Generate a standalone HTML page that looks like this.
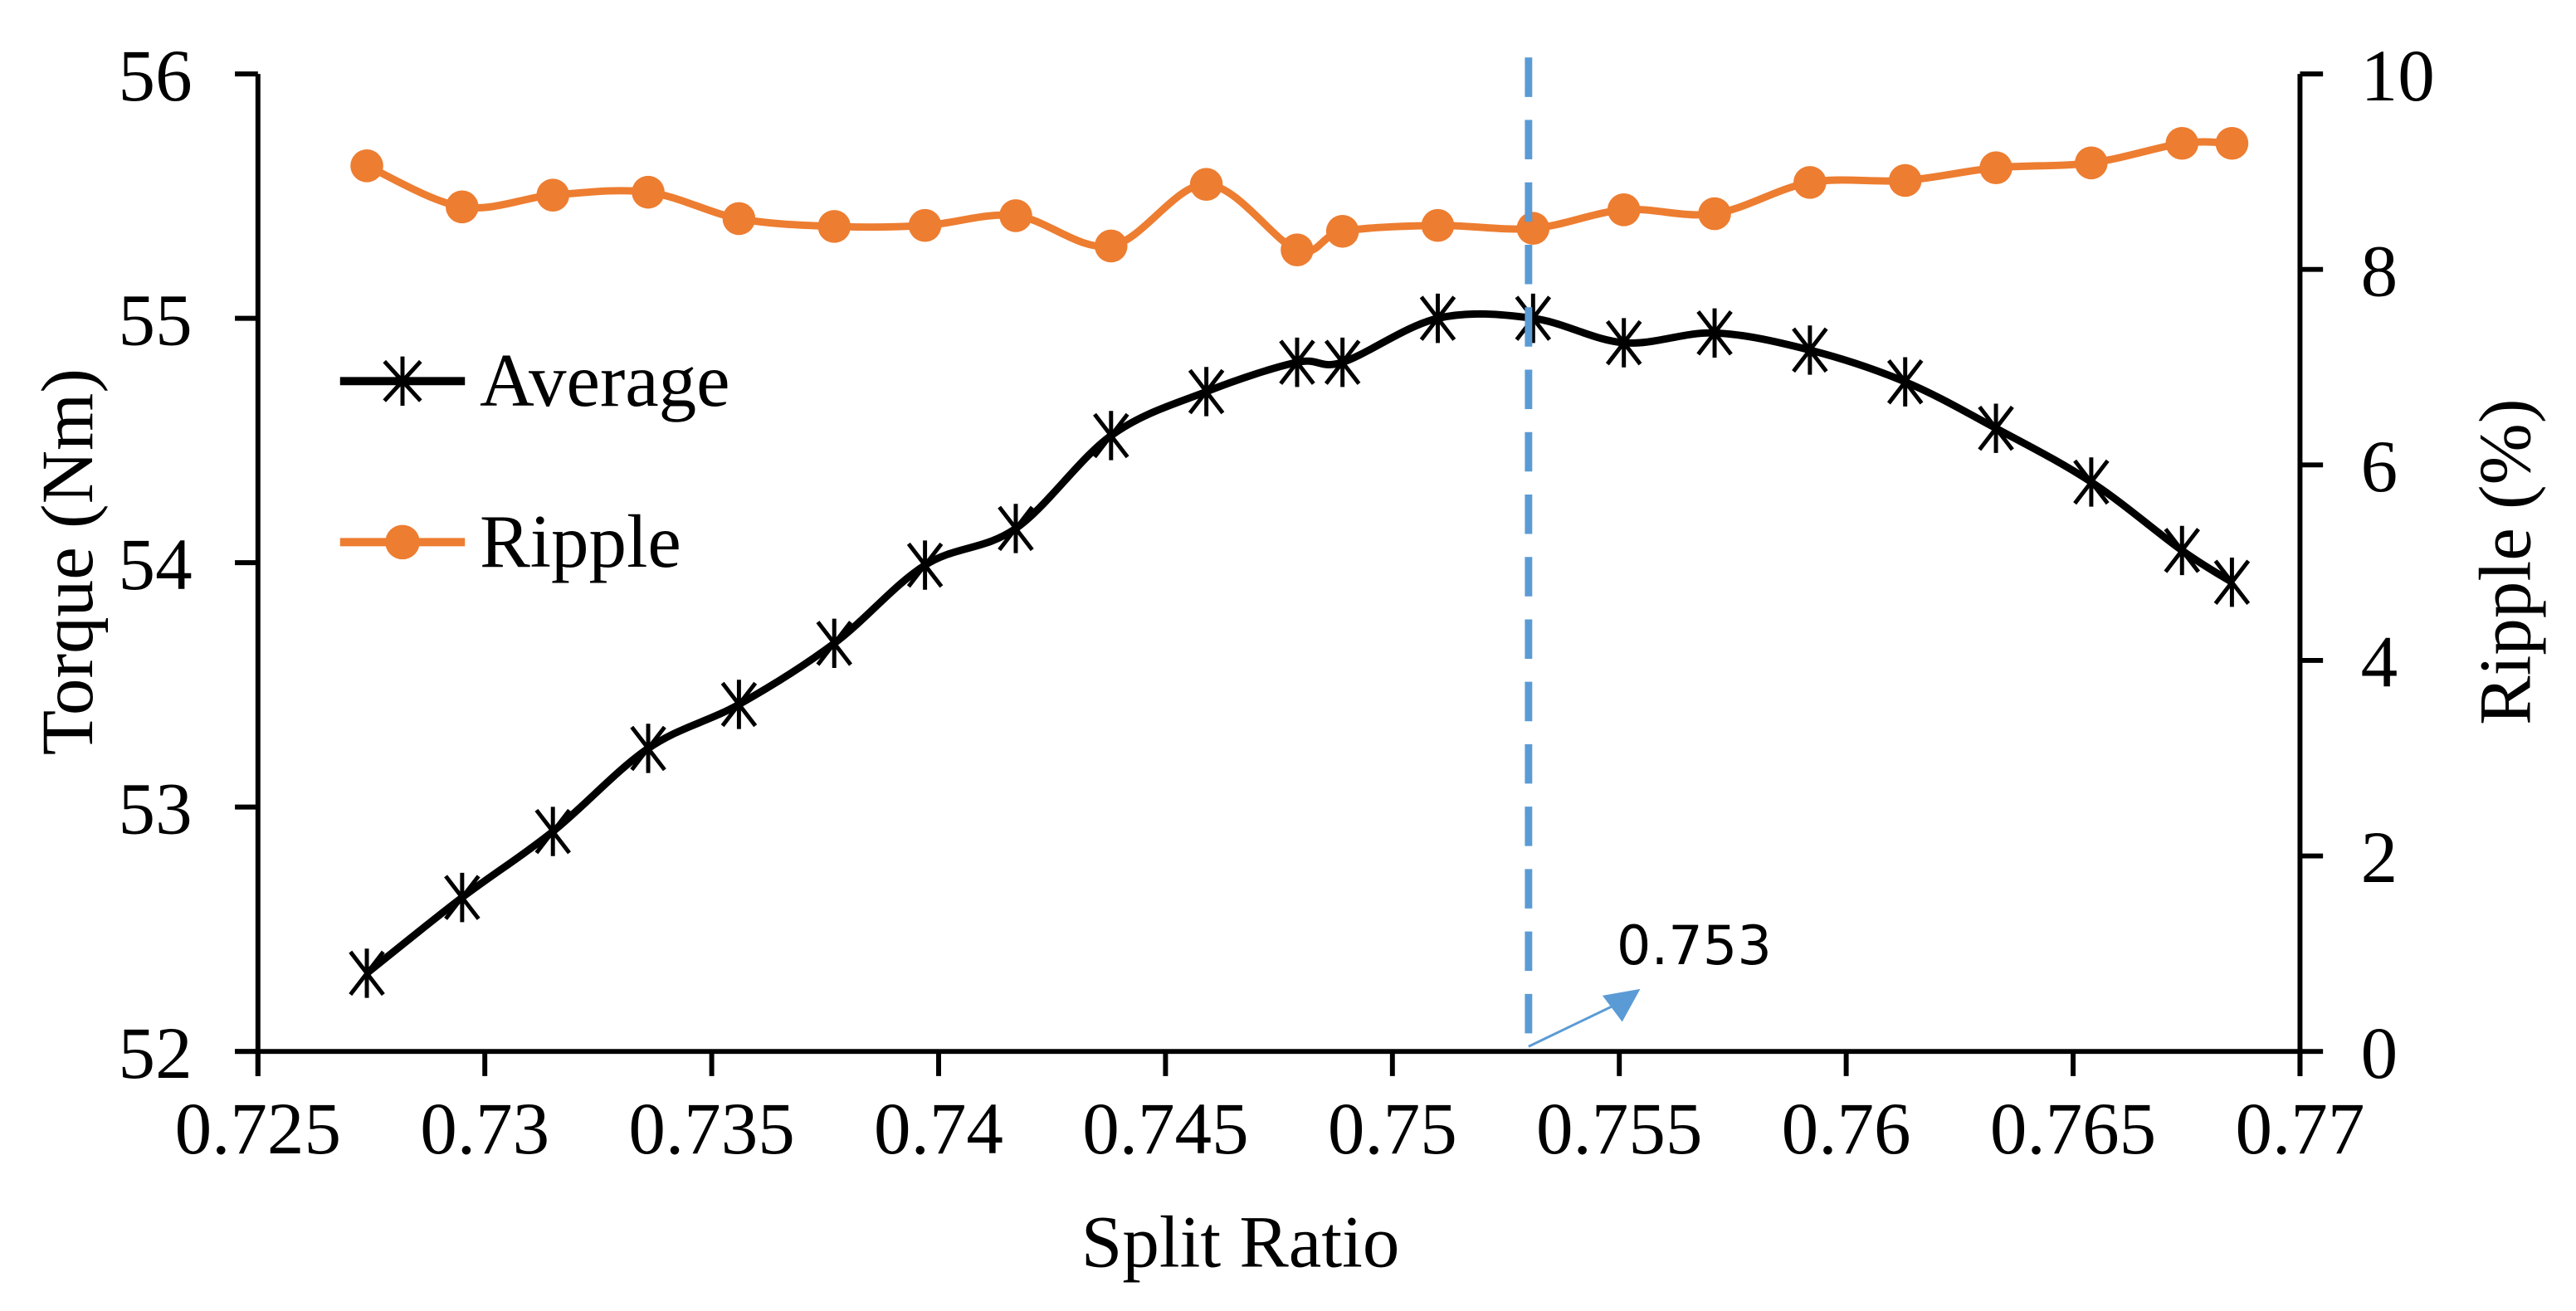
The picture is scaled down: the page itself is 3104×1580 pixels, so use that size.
<!DOCTYPE html>
<html><head><meta charset="utf-8"><style>
html,body{margin:0;padding:0;background:#fff;}
svg{display:block;font-family:"Liberation Serif",serif;}
</style></head><body>
<svg id="chart" width="3104" height="1580" viewBox="0 0 1568 798" preserveAspectRatio="none" xmlns="http://www.w3.org/2000/svg">
<g id="axes"></g>
<g id="series"></g>
<text x="755" y="771" font-size="45" text-anchor="middle">Split Ratio</text>
<text transform="translate(56,342) rotate(-90)" font-size="45" text-anchor="middle">Torque (Nm)</text>
<text transform="translate(1540,342) rotate(-90)" font-size="45" text-anchor="middle">Ripple (%)</text>
<g>
<g>
<line x1="207" y1="232" x2="283" y2="232" stroke="#000" stroke-width="5"/>
<path d="M234 220 L256 244 M256 220 L234 244 M245 217 L245 247" stroke="#000" stroke-width="2.5"/>
<text x="292" y="247" font-size="46">Average</text></g>
<g>
<line x1="207" y1="330" x2="283" y2="330" stroke="#ED7D31" stroke-width="5"/>
<circle cx="245" cy="330" r="10.5" fill="#ED7D31"/>
<text x="292" y="345" font-size="46">Ripple</text></g>
</g>
<text x="984" y="587" font-size="33" font-family="DejaVu Sans, sans-serif">0.753</text>
</svg>
<script>
const xs=[0.7274,0.7295,0.7315,0.7336,0.7356,0.7377,0.7397,0.7417,0.7438,0.7459,0.7479,0.7489,0.7510,0.7531,0.7551,0.7571,0.7592,0.7613,0.7633,0.7654,0.7674,0.7685];
const torque=[52.32,52.63,52.90,53.24,53.42,53.67,53.99,54.14,54.52,54.70,54.82,54.82,55.00,55.00,54.90,54.94,54.87,54.74,54.55,54.33,54.05,53.92];
const ripple=[9.06,8.64,8.76,8.79,8.52,8.44,8.45,8.55,8.24,8.87,8.20,8.39,8.45,8.42,8.61,8.57,8.89,8.91,9.04,9.09,9.29,9.29];
const xTicks=["0.725","0.73","0.735","0.74","0.745","0.75","0.755","0.76","0.765","0.77"];
const yLeftTicks=["52","53","54","55","56"];
const yRightTicks=["0","2","4","6","8","10"];
const markX=0.753;
const NS="http://www.w3.org/2000/svg";
const L=157,R=1400,T=45,B=640;
const sx=v=>L+(v-0.725)/(0.77-0.725)*(R-L);
const syL=v=>B-(v-52)/4*(B-T);
const syR=v=>B-v/10*(B-T);
function mk(tag,attrs,parent){const e=document.createElementNS(NS,tag);for(const k in attrs)e.setAttribute(k,attrs[k]);parent.appendChild(e);return e;}
const ax=document.getElementById('axes'),se=document.getElementById('series'),svg=document.getElementById('chart');
let e;
e=mk('line',{x1:L-14,y1:B,x2:R,y2:B,stroke:'#000','stroke-width':3},ax);


e=mk('line',{x1:L,y1:T,x2:L,y2:B+15,stroke:'#000','stroke-width':3},ax);


e=mk('line',{x1:R,y1:T,x2:R,y2:B+15,stroke:'#000','stroke-width':3},ax);


xTicks.forEach(t=>{const x=sx(+t);
 mk('line',{x1:x,y1:B,x2:x,y2:B+15,stroke:'#000','stroke-width':3},ax);
 e=mk('text',{x:x,y:B+62,'font-size':45,'text-anchor':'middle'},ax);e.textContent=t;
 
 });
yLeftTicks.forEach(t=>{const y=syL(+t);
 mk('line',{x1:L-14,y1:y,x2:L,y2:y,stroke:'#000','stroke-width':3},ax);
 e=mk('text',{x:L-40,y:y+16,'font-size':45,'text-anchor':'end'},ax);e.textContent=t;
 
 });
yRightTicks.forEach(t=>{const y=syR(+t);
 mk('line',{x1:R,y1:y,x2:R+14,y2:y,stroke:'#000','stroke-width':3},ax);
 e=mk('text',{x:R+37,y:y+16,'font-size':45,'text-anchor':'start'},ax);e.textContent=t;
 
 });
function smooth(pts){let d='M'+pts[0][0]+' '+pts[0][1];
 for(let i=0;i<pts.length-1;i++){const p0=pts[Math.max(i-1,0)],p1=pts[i],p2=pts[i+1],p3=pts[Math.min(i+2,pts.length-1)];
 const t=6;d+=' C'+(p1[0]+(p2[0]-p0[0])/t)+' '+(p1[1]+(p2[1]-p0[1])/t)+' '+(p2[0]-(p3[0]-p1[0])/t)+' '+(p2[1]-(p3[1]-p1[1])/t)+' '+p2[0]+' '+p2[1];}
 return d;}
const pr=xs.map((x,i)=>[sx(x),syR(ripple[i])]);
const pt=xs.map((x,i)=>[sx(x),syL(torque[i])]);
e=mk('path',{d:smooth(pr),fill:'none',stroke:'#ED7D31','stroke-width':4.5},se);


pr.forEach(p=>{e=mk('circle',{cx:p[0],cy:p[1],r:10,fill:'#ED7D31'},se);
 
 });
e=mk('path',{d:smooth(pt),fill:'none',stroke:'#000','stroke-width':4.5},se);


pt.forEach(p=>{const [x,y]=p;
 e=mk('path',{d:`M${x-10} ${y-13} L${x+10} ${y+13} M${x+10} ${y-13} L${x-10} ${y+13} M${x} ${y-15} L${x} ${y+15}`,stroke:'#000','stroke-width':2.5,fill:'none'},se);
 
 });
const mx=sx(markX);
e=mk('line',{x1:mx,y1:35,x2:mx,y2:B,stroke:'#5B9BD5','stroke-width':4.5,'stroke-dasharray':'24 14'},svg);


e=mk('line',{x1:mx,y1:B-3,x2:mx+52,y2:B-28,stroke:'#5B9BD5','stroke-width':1.5},svg);


e=mk('polygon',{points:`${mx+68},${B-38} ${mx+45},${B-34} ${mx+57},${B-18}`,fill:'#5B9BD5'},svg);


</script>
</body></html>
